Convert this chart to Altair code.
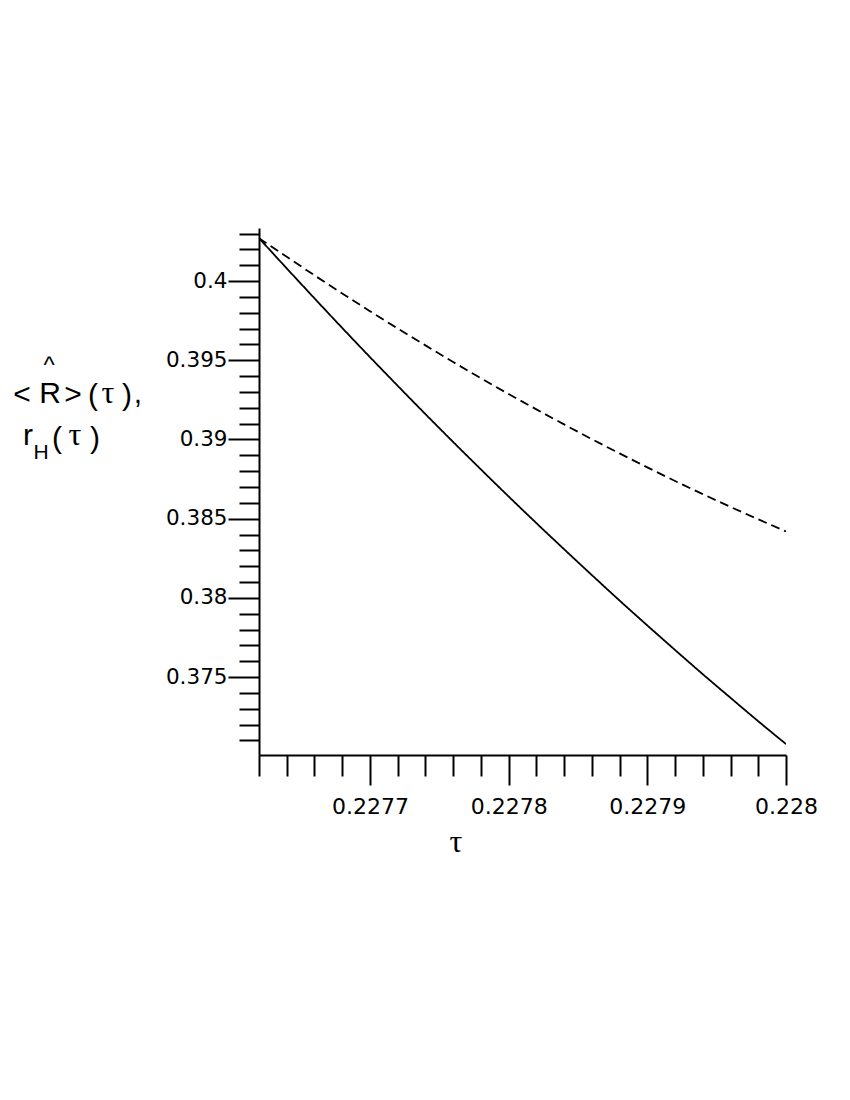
import altair as alt
import pandas as pd

# ---- data ----
tau = [0.22762, 0.22764, 0.22766, 0.22768, 0.22770, 0.22772, 0.22774, 0.22776,
       0.22778, 0.22780, 0.22782, 0.22784, 0.22786, 0.22788, 0.22790, 0.22792,
       0.22794, 0.22796, 0.22798, 0.22800]
R_mean = [0.40271, 0.40080, 0.39891, 0.39704, 0.39520, 0.39339, 0.39160, 0.38984,
          0.38811, 0.38640, 0.38472, 0.38307, 0.38144, 0.37983, 0.37826, 0.37671,
          0.37518, 0.37369, 0.37221, 0.37077]
r_H = [0.40271, 0.40153, 0.40036, 0.39922, 0.39810, 0.39701, 0.39594, 0.39489,
       0.39387, 0.39287, 0.39190, 0.39095, 0.39002, 0.38912, 0.38824, 0.38738,
       0.38655, 0.38574, 0.38496, 0.38419]
x_ticks = tau
y_ticks = [0.371, 0.372, 0.373, 0.374, 0.375, 0.376, 0.377, 0.378, 0.379, 0.380,
           0.381, 0.382, 0.383, 0.384, 0.385, 0.386, 0.387, 0.388, 0.389, 0.390,
           0.391, 0.392, 0.393, 0.394, 0.395, 0.396, 0.397, 0.398, 0.399, 0.400,
           0.401, 0.402, 0.403]
x_domain = [0.22762, 0.22800]
y_domain = [0.37008, 0.40335]

df = pd.DataFrame({
    "tau": tau * 2,
    "value": R_mean + r_H,
    "series": ["R"] * len(tau) + ["rH"] * len(tau),
})

X0, Y0 = 259, 228  # plot origin on page (for annotation text offsets)

x_major = "abs(datum.value*10000 - round(datum.value*10000)) < 1e-6"
y_major = "abs(datum.value*200 - round(datum.value*200)) < 1e-6"

x_axis = alt.Axis(
    values=x_ticks, title="", grid=False,
    domainColor="black", domainWidth=2, tickColor="black", tickWidth=2,
    tickSize={"condition": {"test": x_major, "value": 30}, "value": 21},
    labelExpr=f"({x_major}) ? format(datum.value, '.4~f') : ''",
    labelFont="DejaVu Sans", labelFontSize=22, labelColor="black",
    labelPadding=11, labelOverlap=False, labelFlush=False,
)
y_axis = alt.Axis(
    values=y_ticks, title="", grid=False,
    domainColor="black", domainWidth=2, tickColor="black", tickWidth=2,
    tickSize={"condition": {"test": y_major, "value": 31}, "value": 20},
    labelExpr=f"({y_major}) ? format(datum.value, '.3~f') : ''",
    labelFont="DejaVu Sans", labelFontSize=21.5, labelColor="black",
    labelPadding=1, labelOverlap=False, labelFlush=False,
)

lines = alt.Chart(df).mark_line(color="black", strokeWidth=1.8, interpolate="monotone", clip=True).encode(
    x=alt.X("tau:Q", scale=alt.Scale(domain=x_domain, nice=False, zero=False), axis=x_axis),
    y=alt.Y("value:Q", scale=alt.Scale(domain=y_domain, nice=False, zero=False), axis=y_axis),
    strokeDash=alt.StrokeDash("series:N", scale=alt.Scale(domain=["R", "rH"], range=[[1, 0], [9, 5]]), legend=None),
    detail="series:N",
)

one = alt.Data(values=[{}])


def label(text, px, py, size=30, font="Liberation Sans", align="center"):
    return alt.Chart(one).mark_text(
        text=text, font=font, fontSize=size, color="black", align=align, baseline="alphabetic"
    ).encode(x=alt.value(px - X0), y=alt.value(py - Y0))


serif = "Liberation Serif"
pieces = [
    label("<", 22, 404),
    label("R", 50, 403),
    label("^", 49, 373, size=24),
    label(">", 73, 404),
    label("(", 93, 405),
    label("τ", 108, 403, font=serif, size=32),
    label(")", 127, 405),
    label(",", 138, 403),
    label("r", 28, 445),
    label("H", 41, 459, size=21),
    label("(", 57, 448),
    label("τ", 75, 445, font=serif, size=32),
    label(")", 95, 448),
    label("τ", 456, 852, font=serif, size=32),
]

chart = alt.layer(lines, *pieces).properties(
    width=527, height=527,
    background="white",
    autosize=alt.AutoSizeParams(type="none"),
    padding={"left": X0 - 8, "top": Y0 - 8, "right": 40, "bottom": 300},
).configure_view(stroke=None)

chart.save("out.html", embed_options={"renderer": "svg", "actions": False})
